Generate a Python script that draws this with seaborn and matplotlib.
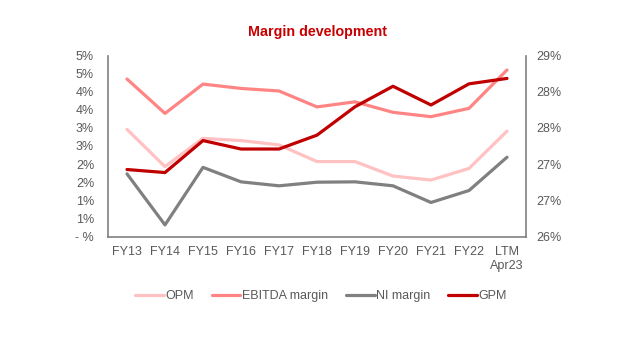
import matplotlib
matplotlib.use("Agg")
import matplotlib.pyplot as plt
import seaborn as sns
import pandas as pd
import numpy as np

categories = ["FY13", "FY14", "FY15", "FY16", "FY17", "FY18", "FY19", "FY20", "FY21", "FY22", "LTM\nApr23"]
opm = [2.96, 1.93, 2.71, 2.65, 2.53, 2.07, 2.07, 1.67, 1.56, 1.88, 2.91]
ebitda = [4.35, 3.40, 4.21, 4.09, 4.02, 3.58, 3.72, 3.43, 3.31, 3.54, 4.60]
ni = [1.73, 0.32, 1.91, 1.51, 1.40, 1.50, 1.51, 1.40, 0.94, 1.27, 2.19]
gpm = [27.11, 27.06, 27.59, 27.45, 27.45, 27.68, 28.15, 28.49, 28.18, 28.53, 28.62]

left_ticks = [0, 0.5, 1.0, 1.5, 2.0, 2.5, 3.0, 3.5, 4.0, 4.5, 5.0]
left_labels = ["- %", "1%", "1%", "2%", "2%", "3%", "3%", "4%", "4%", "5%", "5%"]
right_ticks = [26.0, 26.6, 27.2, 27.8, 28.4, 29.0]
right_labels = ["26%", "27%", "27%", "28%", "28%", "29%"]

sns.set_theme(style="white")
plt.rcParams["font.family"] = ["Liberation Sans", "DejaVu Sans"]

fig = plt.figure(figsize=(6.4, 3.42), dpi=100)
ax = fig.add_axes([108/640, 1 - 236.5/342, (526-108)/640, (236.5-55.5)/342])
ax2 = ax.twinx()

x = np.arange(len(categories))
df = pd.DataFrame({"x": x, "OPM": opm, "EBITDA margin": ebitda, "NI margin": ni, "GPM": gpm})

c_opm = "#FFC1C1"
c_ebitda = "#FF8585"
c_ni = "#808080"
c_gpm = "#C00000"
lw = 2.3

sns.lineplot(data=df, x="x", y="OPM", ax=ax, color=c_opm, lw=lw, label="OPM", legend=False)
sns.lineplot(data=df, x="x", y="EBITDA margin", ax=ax, color=c_ebitda, lw=lw, label="EBITDA margin", legend=False)
sns.lineplot(data=df, x="x", y="NI margin", ax=ax, color=c_ni, lw=lw, label="NI margin", legend=False)
sns.lineplot(data=df, x="x", y="GPM", ax=ax2, color=c_gpm, lw=lw, label="GPM", legend=False)

ax.set_xlim(-0.5, len(categories) - 0.5)
ax.set_ylim(0, 5)
ax2.set_ylim(26, 29)
ax.set_xticks(x)
ax.set_xticklabels(categories)
ax.set_yticks(left_ticks)
ax.set_yticklabels(left_labels)
ax2.set_yticks(right_ticks)
ax2.set_yticklabels(right_labels)
ax.set_xlabel("")
ax.set_ylabel("")
ax2.set_ylabel("")

tc = "#595959"
fs = 9
for a in (ax, ax2):
    a.tick_params(axis="both", length=0, labelsize=fs, colors=tc)
    a.grid(False)
    for s in a.spines.values():
        s.set_visible(False)
ax.tick_params(axis="x", pad=7)
ax.tick_params(axis="y", pad=10)
ax2.tick_params(axis="y", pad=7.5)
ax.spines["left"].set_visible(True)
ax.spines["bottom"].set_visible(True)
ax2.spines["right"].set_visible(True)
for s in (ax.spines["left"], ax.spines["bottom"], ax2.spines["right"]):
    s.set_color("#808080")
    s.set_linewidth(1.2)

fig.text(0.5 * (108 + 526) / 640, 1 - 32/342, "Margin development", ha="center", va="center",
         color="#C80000", fontsize=10.3, fontweight="bold")

handles = ax.get_lines()[:3] + ax2.get_lines()[:1]
labels = ["OPM", "EBITDA margin", "NI margin", "GPM"]
fig.legend(handles, labels, loc="center", bbox_to_anchor=(321/640, 1 - 296/342), ncol=4,
           frameon=False, fontsize=fs, handlelength=2.3, handletextpad=0.15, columnspacing=1.4,
           labelcolor=tc)

fig.savefig("out.png", dpi=100, facecolor="white")
